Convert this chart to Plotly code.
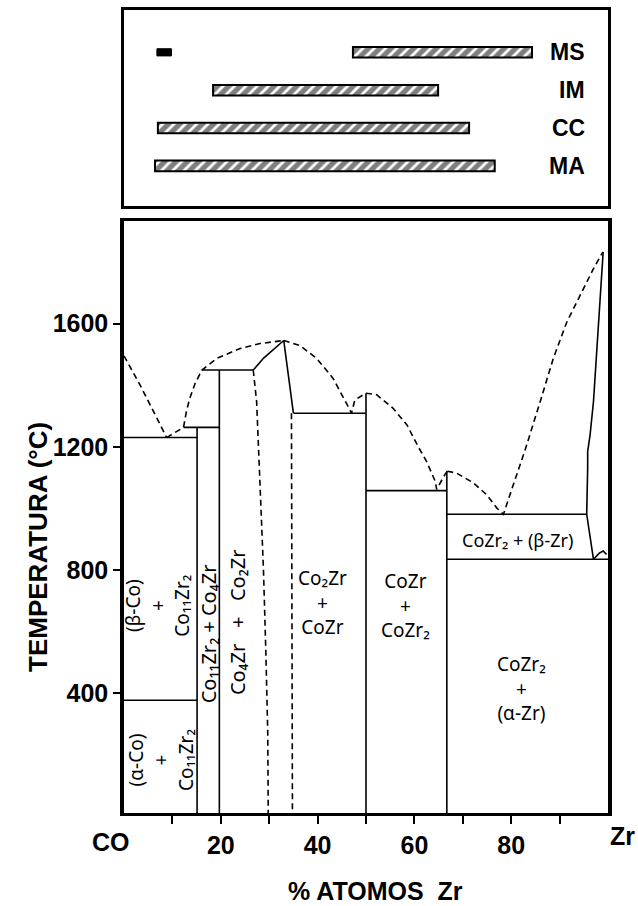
import plotly.graph_objects as go

# ---------------- processing routes: composition ranges (at.% Zr) ----------------
techniques = ["MS", "IM", "CC", "MA"]
tech_pos = [4, 3, 2, 1]
range_start = [47.3, 18.4, 7.0, 6.4]
range_end = [84.3, 64.9, 71.3, 76.6]
ms_low_start = 6.8
ms_low_end = 9.8

# ---------------- Co-Zr phase diagram ----------------
T_MIN, T_MAX = 12, 1932
temp_ticks = [400, 800, 1200, 1600]
comp_ticks = [10, 20, 30, 40, 50, 60, 70, 80, 90]
comp_ticktext = ["", "20", "", "40", "", "60", "", "80", ""]

# liquidus branches (dashed)
liq_co_x = [0, 3.3, 6.8, 8.8]
liq_co_t = [1495, 1401, 1293, 1230]
liq_a_x = [8.8, 12.3, 12.9, 13.6, 14.7, 16.1, 19.2, 24.0, 28.1, 32.2, 33.0]
liq_a_t = [1230, 1263, 1315, 1358, 1406, 1449, 1487, 1519, 1535, 1543, 1545]
liq_b_x = [33.0, 36.4, 39.8, 43.2, 46.3, 47.0, 47.7, 50.0]
liq_b_t = [1545, 1528, 1487, 1422, 1331, 1309, 1352, 1374]
liq_c_x = [50.0, 52.2, 55.6, 58.5, 60.8, 62.5, 64.3, 64.6, 66.3, 66.8]
liq_c_t = [1374, 1369, 1325, 1270, 1200, 1153, 1088, 1062, 1110, 1121]
liq_zr_x = [66.8, 68.7, 72.2, 74.9, 77.0, 78.4, 80.5, 82.9, 86.0, 88.7, 91.5, 94.2, 97.0, 98.7, 99.0]
liq_zr_t = [1121, 1115, 1083, 1045, 1002, 981, 1080, 1191, 1347, 1487, 1605, 1692, 1778, 1826, 1832]

# Co2Zr homogeneity limits (dashed)
co2zr_left_x = [26.7, 27.4, 28.1, 28.8, 29.3, 29.7, 29.8]
co2zr_left_t = [1449, 1347, 1079, 808, 539, 271, T_MIN]
co2zr_right_x = [34.6, 34.7, 34.8]
co2zr_right_t = [1309, 650, T_MIN]

# invariant reactions (horizontal solid lines)
inv_x0 = [0, 0, 12.3, 16.1, 35.0, 50.0, 66.7, 66.7]
inv_x1 = [15.1, 15.1, 19.7, 26.7, 50.0, 66.7, 95.6, 100]
inv_t = [1230, 378, 1263, 1449, 1309, 1058, 981, 835]

# line compounds (vertical solid lines)
cmp_x = [15.1, 19.7, 50.0, 66.7]
cmp_top = [1263, 1449, 1374, 1121]

# Co2Zr solidus
co2zr_sol_x = [26.7, 28.8, 33.0, 35.0]
co2zr_sol_t = [1449, 1487, 1545, 1309]

# Zr-rich solidus / solvus
zr_sol_x = [99.0, 97.0, 96.3, 95.8, 95.8, 95.6, 97.0]
zr_sol_t = [1832, 1347, 1239, 1185, 1131, 981, 835]
alpha_zr_x = [97.0, 98.2, 99.0, 99.7]
alpha_zr_t = [835, 855, 862, 851]

LINE = dict(color="black", width=1.6)
DASH = dict(color="black", width=1.6, dash="6px,4px")

fig = go.Figure()

# --- top panel: hatched composition ranges ---
fig.add_trace(go.Bar(
    y=tech_pos, x=[e - s for s, e in zip(range_start, range_end)], base=range_start,
    orientation="h", width=0.28, xaxis="x2", yaxis="y2",
    marker=dict(color="white", line=dict(color="black", width=2),
                pattern=dict(shape="/", fgcolor="black", bgcolor="white",
                             size=8, solidity=0.65)),
    hoverinfo="skip",
))
fig.add_trace(go.Bar(
    y=[tech_pos[0]], x=[ms_low_end - ms_low_start], base=[ms_low_start],
    orientation="h", width=0.19, xaxis="x2", yaxis="y2",
    marker=dict(color="black", line=dict(color="black", width=1)),
    hoverinfo="skip",
))

# --- bottom panel: phase diagram ---
def add_line(xs, ts, style):
    fig.add_trace(go.Scatter(x=xs, y=ts, mode="lines", line=style,
                             hoverinfo="skip", xaxis="x", yaxis="y"))

for xs, ts in [(liq_co_x, liq_co_t), (liq_a_x, liq_a_t), (liq_b_x, liq_b_t),
               (liq_c_x, liq_c_t), (liq_zr_x, liq_zr_t),
               (co2zr_left_x, co2zr_left_t), (co2zr_right_x, co2zr_right_t)]:
    add_line(xs, ts, DASH)

hx, ht = [], []
for x0, x1, t in zip(inv_x0, inv_x1, inv_t):
    hx += [x0, x1, None]
    ht += [t, t, None]
add_line(hx, ht, LINE)

vx, vt = [], []
for x, top in zip(cmp_x, cmp_top):
    vx += [x, x, None]
    vt += [T_MIN, top, None]
add_line(vx, vt, LINE)

add_line(co2zr_sol_x, co2zr_sol_t, LINE)
add_line(zr_sol_x, zr_sol_t, LINE)
add_line(alpha_zr_x, alpha_zr_t, LINE)

# --- phase field labels ---
HAND = dict(family="Noto Sans", size=19, color="black")
HAND_S = dict(family="Noto Sans", size=20, color="black")
labels = [
    ("(β-Co)<br>+<br>Co₁₁Zr₂", 7.0, 684, -90, HAND),
    ("(α-Co)<br>+<br>Co₁₁Zr₂", 7.6, 183, -90, HAND),
    ("Co₁₁Zr₂ + Co₄Zr", 17.5, 594, -90, HAND_S),
    ("Co₄Zr   +   Co₂Zr", 23.6, 632, -90, HAND_S),
    ("Co₂Zr<br>+<br>CoZr", 41.1, 694, 0, HAND),
    ("CoZr<br>+<br>CoZr₂", 58.1, 684, 0, HAND),
    ("CoZr₂ + (β-Zr)", 81.2, 898, 0, dict(HAND, size=18)),
    ("CoZr₂<br>+<br>(α-Zr)", 82.2, 416, 0, HAND),
]
annotations = []
for text, x, t, ang, fnt in labels:
    annotations.append(dict(text=text, x=x, y=t, xref="x", yref="y",
                            textangle=ang, showarrow=False, font=fnt,
                            xanchor="center", yanchor="middle"))

BOLD = dict(family="Liberation Sans", size=23, color="black", weight="bold")
for name, pos in zip(techniques, tech_pos):
    annotations.append(dict(text=name, x=95.7, y=pos, xref="x2", yref="y2",
                            xanchor="right", yanchor="middle", showarrow=False,
                            font=BOLD))

TITLE = dict(family="Liberation Sans", size=26, color="black", weight="bold")
annotations += [
    dict(text="TEMPERATURA (°C)", x=-0.1777, y=0.3313, xref="paper", yref="paper",
         textangle=-90, showarrow=False, font=TITLE, xanchor="center", yanchor="middle"),
    dict(text="% ATOMOS  Zr", x=0.5186, y=-0.0968, xref="paper", yref="paper",
         showarrow=False, font=dict(TITLE, size=25), xanchor="center", yanchor="middle"),
    dict(text="CO", x=-0.027, y=-0.036, xref="paper", yref="paper",
         showarrow=False, font=dict(TITLE, size=25), xanchor="center", yanchor="middle"),
    dict(text="Zr", x=1.029, y=-0.0285, xref="paper", yref="paper",
         showarrow=False, font=dict(TITLE, size=25), xanchor="center", yanchor="middle"),
]

TICKFONT = dict(family="Liberation Sans", size=25, color="black", weight="bold")
fig.update_layout(
    width=638, height=906, autosize=False,
    margin=dict(l=124, r=30, t=7, b=93),
    paper_bgcolor="white", plot_bgcolor="white",
    showlegend=False, barmode="overlay",
    xaxis=dict(domain=[0, 1], range=[0, 100], anchor="y",
               tickvals=comp_ticks, ticktext=comp_ticktext, ticks="outside",
               ticklen=8, tickwidth=2, tickcolor="black", tickfont=TICKFONT,
               showline=True, linewidth=3, linecolor="black", mirror=True,
               showgrid=False, zeroline=False),
    yaxis=dict(domain=[0, 0.737], range=[T_MIN, T_MAX], anchor="x",
               tickvals=temp_ticks, ticks="outside", ticklen=7, tickwidth=2,
               tickcolor="black", tickfont=TICKFONT,
               showline=True, linewidth=3.5, linecolor="black", mirror=True,
               showgrid=False, zeroline=False),
    xaxis2=dict(domain=[0, 1], range=[0, 100], anchor="y2", matches="x",
                showticklabels=False, ticks="",
                showline=True, linewidth=3, linecolor="black", mirror=True,
                showgrid=False, zeroline=False),
    yaxis2=dict(domain=[0.7556, 1], range=[-0.066, 5.118], anchor="x2",
                showticklabels=False, ticks="",
                showline=True, linewidth=3, linecolor="black", mirror=True,
                showgrid=False, zeroline=False),
    annotations=annotations,
)

fig.write_html("out.html")
